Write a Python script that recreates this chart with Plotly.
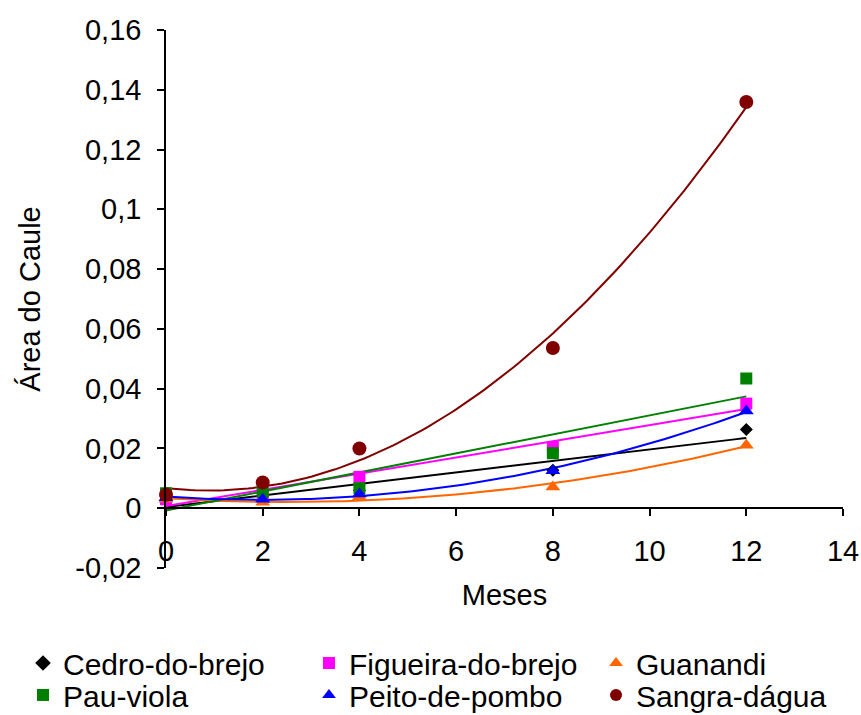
import numpy as np
import plotly.graph_objects as go

# ---- data ----
meses = [0, 2, 4, 8, 12]
cedro = [0.0030, 0.0040, 0.0060, 0.0127, 0.0263]
figueira = [0.0030, 0.0050, 0.0105, 0.0205, 0.0350]
guanandi = [0.0030, 0.0020, 0.0038, 0.0071, 0.0211]
pau_viola = [0.0050, 0.0055, 0.0067, 0.0184, 0.0434]
peito = [0.0035, 0.0030, 0.0048, 0.0125, 0.0325]
sangra = [0.0045, 0.0086, 0.0200, 0.0536, 0.1359]

series_names = ["Cedro-do-brejo", "Figueira-do-brejo", "Guanandi",
                "Pau-viola", "Peito-de-pombo", "Sangra-dágua"]
series_values = [cedro, figueira, guanandi, pau_viola, peito, sangra]
trend_degree = [1, 1, 2, 1, 2, 2]

y_tickvals = [-0.02, 0, 0.02, 0.04, 0.06, 0.08, 0.1, 0.12, 0.14, 0.16]
y_ticktext = ["-0,02", "0", "0,02", "0,04", "0,06", "0,08", "0,1", "0,12", "0,14", "0,16"]
x_tickvals = [0, 2, 4, 6, 8, 10, 12, 14]

# ---- styles ----
colors = ["#000000", "#FF00FF", "#FF6600", "#008000", "#0000FF", "#800000"]
symbols = ["diamond", "square", "triangle-up", "square", "triangle-up", "circle"]
sizes = [10, 12, 13, 12, 13, 14]
legend_pos = [(-0.2112, -0.1766), (0.2112, -0.1766), (0.6352, -0.1766),
              (-0.2112, -0.236), (0.2112, -0.236), (0.6352, -0.236)]

FONT = "Liberation Sans, Arial, sans-serif"
FS = 29
FS_LEG = 30

fig = go.Figure()

xs = np.linspace(0, 12, 121)
# trend lines
for name, vals, deg, col in zip(series_names, series_values, trend_degree, colors):
    coef = np.polyfit(meses, vals, deg)
    fig.add_trace(go.Scatter(x=xs, y=np.polyval(coef, xs), mode="lines",
                             line=dict(color=col, width=2), showlegend=False,
                             hoverinfo="skip"))

# markers
for i, (name, vals, col, sym, sz) in enumerate(zip(series_names, series_values, colors, symbols, sizes)):
    lg = "legend" if i == 0 else f"legend{i+1}"
    fig.add_trace(go.Scatter(x=meses, y=vals, mode="markers", name=name,
                             marker=dict(color=col, symbol=sym, size=sz, line=dict(width=0)),
                             cliponaxis=False, legend=lg))

layout_legends = {}
for i, (lx, ly) in enumerate(legend_pos):
    key = "legend" if i == 0 else f"legend{i+1}"
    layout_legends[key] = dict(x=lx, y=ly, xanchor="left", yanchor="middle",
                               orientation="h", bgcolor="rgba(0,0,0,0)",
                               font=dict(family=FONT, size=FS_LEG, color="#000000"),
                               itemsizing="constant")

fig.update_layout(
    width=861, height=715,
    margin=dict(l=166, r=18, t=30, b=147, autoexpand=False),
    paper_bgcolor="white", plot_bgcolor="white",
    font=dict(family=FONT, size=FS, color="#000000"),
    **layout_legends,
    xaxis=dict(range=[0, 14], tickvals=x_tickvals, showgrid=False, zeroline=False,
               showline=True, linecolor="#000000", linewidth=1.5,
               ticks="outside", ticklen=7, tickcolor="#000000", tickwidth=1.5,
               anchor="free", position=0.02 / 0.18, automargin=False,
               ticklabelstandoff=10,
               title=dict(text="Meses", standoff=18, font=dict(size=FS))),
    yaxis=dict(range=[-0.02, 0.16], tickvals=y_tickvals, ticktext=y_ticktext,
               showgrid=False, zeroline=False,
               showline=True, linecolor="#000000", linewidth=1.5,
               ticks="outside", ticklen=7, tickcolor="#000000", tickwidth=1.5,
               automargin=False, ticklabelstandoff=10,
               title=dict(text="Área do Caule", standoff=26, font=dict(size=FS))),
)

# remove the default page margin so the figure fills the 861x715 window exactly
fig.write_html("out.html",
               config={"displayModeBar": False},
               post_script="document.body.style.margin='0';document.body.style.overflow='hidden';")
